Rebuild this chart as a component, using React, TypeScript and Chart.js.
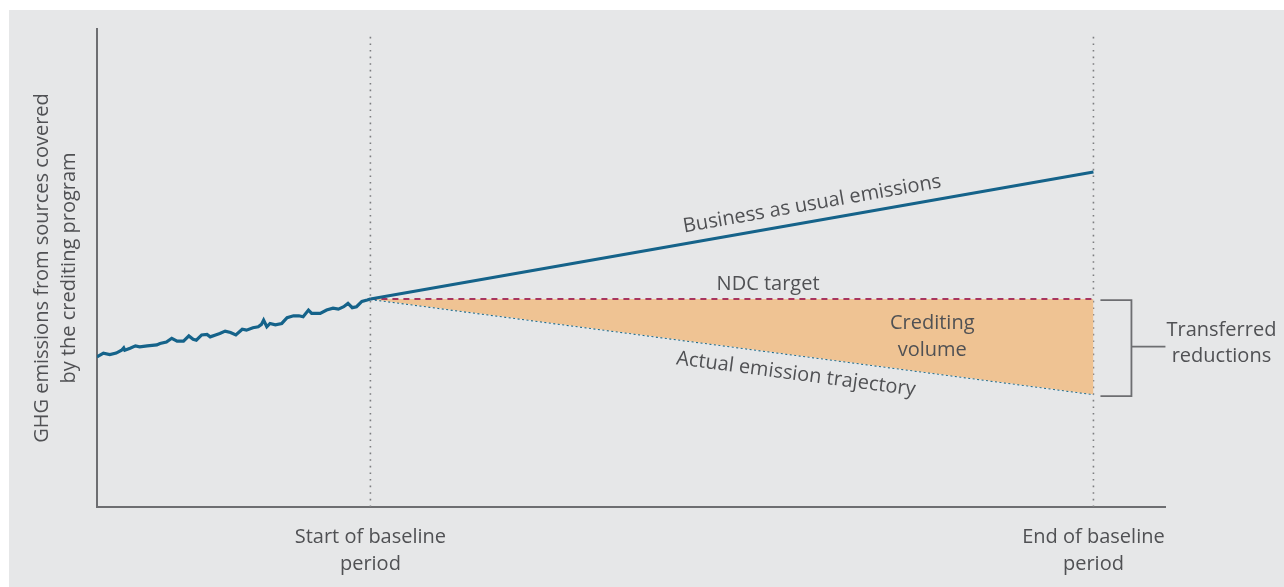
import React, { useEffect, useRef } from "react";
import { Chart, registerables } from "chart.js";

Chart.register(...registerables);

// Historical emissions (unitless time index / emissions index)
const histX = [0, 0.6, 1.2, 1.8, 2.3, 2.5, 2.6, 3.1, 3.6, 4.0, 4.7, 5.6, 5.9, 6.5, 7.0, 7.5, 8.1, 8.6, 9.0, 9.3, 9.8, 10.3, 10.6, 11.1, 11.5, 12.0, 12.5, 13.0, 13.6, 14.0, 14.6, 15.1, 15.4, 15.6, 15.9, 16.2, 16.7, 17.3, 17.8, 18.4, 18.9, 19.3, 19.8, 20.1, 20.9, 21.5, 22.1, 22.6, 23.1, 23.5, 23.9, 24.3, 24.8, 25.3, 25.6];
const histY = [31.4, 32.2, 31.9, 32.2, 32.8, 33.3, 32.8, 33.2, 33.7, 33.5, 33.7, 33.9, 34.2, 34.5, 35.3, 34.7, 34.7, 35.8, 35.1, 34.9, 36.0, 36.1, 35.6, 36.0, 36.3, 36.8, 36.5, 36.0, 37.2, 37.0, 37.5, 37.7, 38.2, 39.1, 37.7, 38.4, 38.1, 38.4, 39.6, 40.0, 40.0, 39.8, 41.2, 40.5, 40.5, 41.2, 41.6, 41.4, 41.9, 42.6, 41.7, 41.9, 43.0, 43.3, 43.5];

// Baseline period (start, end)
const periodX = [25.6, 93.3];
const bauY = [43.5, 70.1];
const ndcY = [43.5, 43.5];
const actualY = [43.5, 23.6];

const periodLabels = [["Start of baseline", "period"], ["End of baseline", "period"]];
const yTitle = ["GHG emissions from sources covered", "by the crediting program"];
const bauLabel = "Business as usual emissions";
const ndcLabel = "NDC target";
const actualLabel = "Actual emission trajectory";
const creditLabel = ["Crediting", "volume"];
const transferLabel = ["Transferred", "reductions"];

const FONT_FAMILY = "'Open Sans', 'Noto Sans', sans-serif";
const TEXT = "#505154";
const BLUE = "#15638a";
const AXIS = "#6d6e71";

const annotations = {
  id: "annotations",
  afterDatasetsDraw(chart: any) {
    const { ctx, scales } = chart;
    const x = scales.x, y = scales.y;
    const x0 = x.getPixelForValue(periodX[0]);
    const x1 = x.getPixelForValue(periodX[1]);
    const along = (ys: number[], t: number) => {
      const a = y.getPixelForValue(ys[0]);
      const b = y.getPixelForValue(ys[1]);
      return { px: x0 + (x1 - x0) * t, py: a + (b - a) * t, ang: Math.atan2(b - a, x1 - x0) };
    };
    ctx.save();
    ctx.fillStyle = TEXT;
    ctx.font = `20px ${FONT_FAMILY}`;
    ctx.textAlign = "center";
    ctx.textBaseline = "middle";

    // Business as usual label
    let p = along(bauY, 0.615);
    ctx.save();
    ctx.translate(p.px, p.py);
    ctx.rotate(p.ang);
    ctx.fillText(bauLabel, 0, -17);
    ctx.restore();

    // Actual emission label
    p = along(actualY, 0.592);
    ctx.save();
    ctx.translate(p.px, p.py);
    ctx.rotate(p.ang);
    ctx.fillText(actualLabel, 0, 19);
    ctx.restore();

    // NDC target label
    p = along(ndcY, 0.55);
    ctx.fillText(ndcLabel, p.px, p.py - 15);

    // Crediting volume
    const t = 0.777;
    const a = along(ndcY, t), b = along(actualY, t);
    const cy = (a.py + b.py) / 2;
    ctx.fillText(creditLabel[0], a.px, cy - 13);
    ctx.fillText(creditLabel[1], a.px, cy + 14);

    // Bracket
    const top = y.getPixelForValue(ndcY[1]);
    const bot = y.getPixelForValue(actualY[1]);
    const mid = (top + bot) / 2;
    ctx.strokeStyle = AXIS;
    ctx.lineWidth = 1.8;
    ctx.beginPath();
    ctx.moveTo(x1 + 7, top + 1);
    ctx.lineTo(x1 + 38, top + 1);
    ctx.lineTo(x1 + 38, bot + 2);
    ctx.lineTo(x1 + 7, bot + 2);
    ctx.moveTo(x1 + 38, mid);
    ctx.lineTo(x1 + 72, mid);
    ctx.stroke();

    ctx.fillText(transferLabel[0], x1 + 128, mid - 16);
    ctx.fillText(transferLabel[1], x1 + 128, mid + 10);
    ctx.restore();
  },
};

export default function App() {
  const ref = useRef<HTMLCanvasElement>(null);
  useEffect(() => {
    if (!ref.current) return;
    const vline = (xv: number) => ({
      data: [{ x: xv, y: 0 }, { x: xv, y: 99 }],
      borderColor: "#7d7e80",
      borderWidth: 1.6,
      borderDash: [1.6, 5],
      pointRadius: 0,
      fill: false,
    });
    const chart = new Chart(ref.current, {
      type: "line",
      data: {
        datasets: [
          {
            data: histX.map((v, i) => ({ x: v, y: histY[i] })),
            borderColor: BLUE,
            borderWidth: 3.2,
            pointRadius: 0,
            tension: 0,
            fill: false,
          },
          {
            data: periodX.map((v, i) => ({ x: v, y: bauY[i] })),
            borderColor: BLUE,
            borderWidth: 3,
            pointRadius: 0,
            fill: false,
          },
          {
            data: periodX.map((v, i) => ({ x: v, y: ndcY[i] })),
            borderColor: "#a8355e",
            borderWidth: 2,
            borderDash: [6, 5],
            pointRadius: 0,
            fill: 3,
            backgroundColor: "#efc393",
          },
          {
            data: periodX.map((v, i) => ({ x: v, y: actualY[i] })),
            borderColor: "#1a6b8f",
            borderWidth: 2,
            borderDash: [2, 2.5],
            pointRadius: 0,
            fill: false,
          },
          vline(periodX[0]),
          vline(periodX[1]),
        ],
      },
      options: {
        animation: false,
        responsive: false,
        layout: { padding: { top: 19, right: 119, left: 0, bottom: 0 } },
        plugins: { legend: { display: false }, tooltip: { enabled: false } },
        scales: {
          x: {
            type: "linear",
            min: 0,
            max: 100,
            grid: { display: false, drawTicks: false },
            border: { display: true, color: AXIS, width: 2 },
            afterBuildTicks: (s: any) => {
              s.ticks = periodX.map((v) => ({ value: v }));
            },
            afterFit: (s: any) => {
              s.height = 80;
            },
            ticks: {
              padding: 17,
              maxRotation: 0,
              autoSkip: false,
              color: TEXT,
              font: { size: 20, family: FONT_FAMILY, lineHeight: 1.35 },
              callback: (v: any) => {
                const i = periodX.indexOf(Number(v));
                return i >= 0 ? periodLabels[i] : "";
              },
            },
          },
          y: {
            type: "linear",
            min: 0,
            max: 100,
            grid: { display: false, drawTicks: false },
            border: { display: true, color: AXIS, width: 2 },
            ticks: { display: false },
            afterFit: (s: any) => {
              s.width = 88;
            },
            title: {
              display: true,
              text: yTitle,
              color: TEXT,
              font: { size: 20, family: FONT_FAMILY, lineHeight: 1.35 },
              padding: { top: 19.5, bottom: 0 },
            },
          },
        },
      },
      plugins: [annotations],
    });
    return () => chart.destroy();
  }, []);
  return (
    <div style={{ position: "fixed", left: 0, top: 0, width: 1284, height: 587, background: "#ffffff" }}>
      <canvas
        ref={ref}
        width={1275}
        height={577}
        style={{ position: "absolute", left: 9, top: 10, width: 1275, height: 577, background: "#e6e7e8" }}
      />
    </div>
  );
}
